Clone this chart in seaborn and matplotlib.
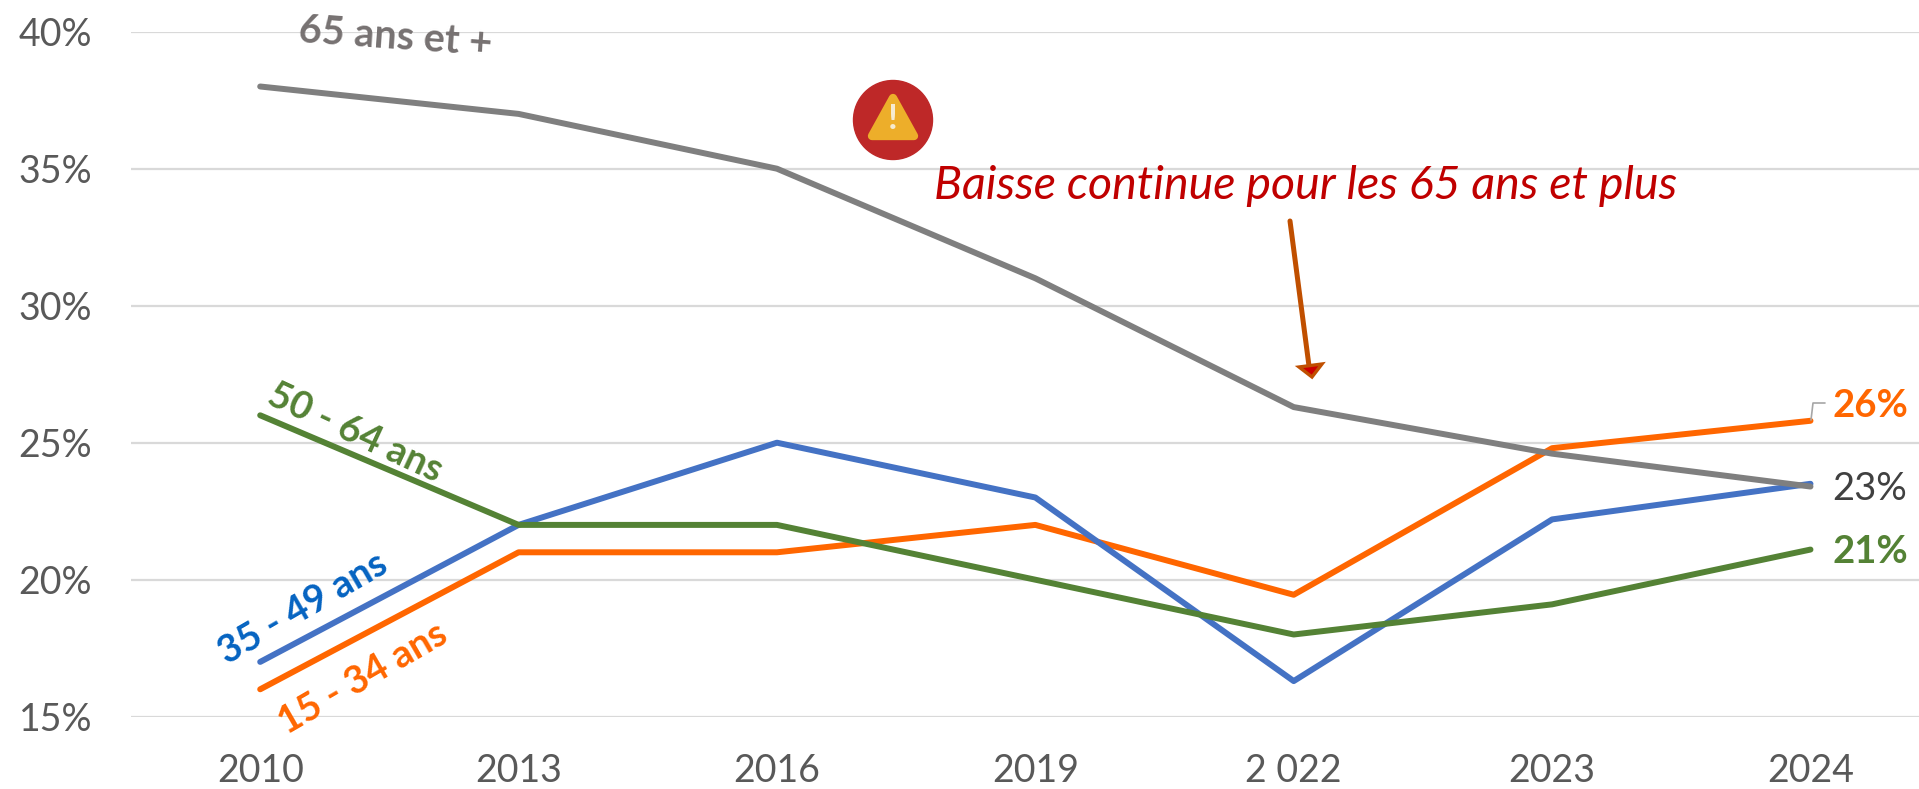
import pandas as pd
import matplotlib
matplotlib.use("Agg")
import matplotlib.pyplot as plt
import matplotlib.patches as mpatches
from matplotlib.lines import Line2D
from matplotlib.transforms import IdentityTransform
import seaborn as sns

years = ["2010", "2013", "2016", "2019", "2 022", "2023", "2024"]
age_15_34 = [16, 21, 21, 22, 19.45, 24.8, 25.8]
age_35_49 = [17, 22, 25, 23, 16.3, 22.2, 23.5]
age_50_64 = [26, 22, 22, 20, 18, 19.1, 21.1]
age_65 = [38, 37, 35, 31, 26.3, 24.6, 23.4]
y_ticks = [15, 20, 25, 30, 35, 40]

W, H = 1919, 789
GREY_TXT = "#595959"
COLORS = {"15 - 34 ans": "#FF6600", "35 - 49 ans": "#4472C4",
          "50 - 64 ans": "#548235", "65 ans et +": "#7F7F7F"}


def px(x, y):
    # image pixels (origin top left) to display coords
    return x, H - y


df = pd.DataFrame({"annee": years, "15 - 34 ans": age_15_34, "35 - 49 ans": age_35_49,
                   "50 - 64 ans": age_50_64, "65 ans et +": age_65})
df = df.melt(id_vars="annee", var_name="age", value_name="part")

sns.set_theme(style="white")
plt.rcParams["font.family"] = ["Lato", "DejaVu Sans"]

fig = plt.figure(figsize=(W / 100, H / 100), dpi=100)
ax = fig.add_axes([131 / W, 1 - 716.7 / H, (W - 131) / W, 685 / H])
sns.lineplot(data=df, x="annee", y="part", hue="age", palette=COLORS, sort=False,
             linewidth=4.3, legend=False, ax=ax, zorder=3,
             solid_capstyle="round", solid_joinstyle="round")

ax.set_xlim(-0.5, 6.42)
ax.set_ylim(15, 40)
ax.set_yticks(y_ticks)
ax.set_yticklabels([f"{v}%" for v in y_ticks])
ax.set_xlabel("")
ax.set_ylabel("")
ax.grid(axis="y", color="#D9D9D9", lw=1.6)
ax.set_axisbelow(True)
ax.tick_params(axis="both", length=0, labelsize=27, labelcolor=GREY_TXT)
ax.tick_params(axis="y", pad=28)
ax.tick_params(axis="x", pad=26)
for side in ax.spines:
    ax.spines[side].set_visible(False)
for lab in ax.get_xticklabels() + ax.get_yticklabels():
    lab.set_clip_on(False)


def label(x, y, s, color, size=27.5, rot=0, weight="bold", style="normal"):
    fig.text(x / W, 1 - y / H, s, color=color, fontsize=size, rotation=rot, weight=weight,
             style=style, ha="center", va="center", rotation_mode="anchor")


# series names along the lines
label(395, 37, "65 ans et +", "#767171", size=28.5, rot=-4)
label(355, 433, "50 - 64 ans", "#548235", rot=-25)
label(303, 608, "35 - 49 ans", "#0563C1", rot=30)
label(363, 678, "15 - 34 ans", "#FF6600", rot=30)

# end labels
label(1870, 406, f"{age_15_34[-1]:.0f}%", "#FF6600")
label(1870, 489, f"{age_65[-1]:.0f}%", "#404040", weight="normal")
label(1870, 552, f"{age_50_64[-1]:.0f}%", "#548235")

# leader line for 26%
xs, ys = zip(*[px(1811, 420), px(1813, 403), px(1825, 403)])
fig.add_artist(Line2D(xs, ys, color="#A6A6A6", lw=1.2, transform=IdentityTransform()))

# annotation + arrow
label(1306, 186, "Baisse continue pour les 65 ans et plus", "#C00000", size=33.5,
      weight="normal", style="italic")
shaft = mpatches.FancyArrowPatch(px(1290, 221), px(1309, 366), arrowstyle="-", color="#C04F00", lw=3.6,
                                 shrinkA=0, shrinkB=0, transform=IdentityTransform())
fig.add_artist(shaft)
fig.add_artist(mpatches.Polygon([px(1299, 367), px(1322, 364), px(1312, 377)], closed=True, fc="#CC0000",
                                ec="#C04F00", lw=2.4, transform=IdentityTransform()))

# warning icon
fig.add_artist(mpatches.Circle(px(893, 120), 39.5, color="#BE2828", transform=IdentityTransform()))
fig.add_artist(mpatches.Polygon([px(893, 98), px(914, 136), px(872, 136)], closed=True, fc="#EDAE2A",
                                ec="#EDAE2A", lw=6, joinstyle="round", transform=IdentityTransform()))
label(893, 119, "!", "#F6EBD0", size=25)

fig.savefig("out.png", dpi=100)
